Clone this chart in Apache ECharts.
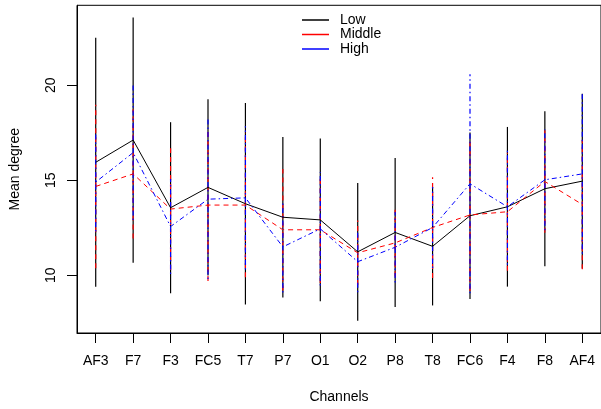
<!DOCTYPE html>
<html>
<head>
<meta charset="utf-8">
<script src="https://cdn.jsdelivr.net/npm/echarts@6/dist/echarts.min.js"></script>
<style>
  html, body { margin: 0; padding: 0; background: #fff; }
  #main { width: 601px; height: 409px; }
</style>
</head>
<body>
<div id="main"></div>
<script>
// channels on the x axis
var channels = ['AF3', 'F7', 'F3', 'FC5', 'T7', 'P7', 'O1', 'O2', 'P8', 'T8', 'FC6', 'F4', 'F8', 'AF4'];

// mean degree per group
var lowMean  = [15.94, 17.11, 13.55, 14.62, 13.76, 13.05, 12.91, 11.23, 12.25, 11.52, 13.13, 13.60, 14.55, 14.95];
var midMean  = [14.67, 15.33, 13.48, 13.69, 13.69, 12.39, 12.39, 11.18, 11.70, 12.51, 13.17, 13.34, 14.93, 13.72];
var highMean = [14.90, 16.45, 12.56, 14.00, 14.07, 11.49, 12.44, 10.71, 11.47, 12.51, 14.81, 13.60, 15.02, 15.33];

// standard deviations (error bar half length)
var lowSd  = [6.55, 6.45, 4.50, 4.64, 5.30, 4.22, 4.28, 3.62, 3.92, 3.11, 4.38, 4.20, 4.08, 4.60];
var midSd  = [4.30, 3.40, 3.20, 4.00, 3.80, 3.20, 2.80, 1.70, 1.75, 2.65, 4.00, 3.10, 2.70, 3.40];
var highSd = [2.60, 3.55, 2.50, 4.20, 3.77, 2.40, 2.98, 1.60, 1.85, 2.13, 5.76, 3.05, 2.65, 4.20];

var yTicks = [10, 15, 20];

var groups = [
  { name: 'Low',    mean: lowMean,  sd: lowSd,  color: '#000000', dash: null },
  { name: 'Middle', mean: midMean,  sd: midSd,  color: '#FF0000', dash: [5, 4] },
  { name: 'High',   mean: highMean, sd: highSd, color: '#0000FF', dash: [1.5, 3, 5, 3] }
];

var font = 'Liberation Sans, Arial, sans-serif';
var myChart = echarts.init(document.getElementById('main'));

var series = [];
// error bars first
groups.forEach(function (g) {
  series.push({
    type: 'custom',
    name: g.name + ' sd',
    silent: true,
    data: g.mean.map(function (m, i) { return [i, m - g.sd[i], m + g.sd[i]]; }),
    encode: { x: 0, y: [1, 2] },
    renderItem: function (params, api) {
      var p1 = api.coord([api.value(0), api.value(1)]);
      var p2 = api.coord([api.value(0), api.value(2)]);
      return {
        type: 'line',
        shape: { x1: p1[0], y1: p1[1], x2: p2[0], y2: p2[1] },
        style: { stroke: g.color, lineWidth: 1.2, lineDash: g.dash || 'solid' }
      };
    }
  });
});
// mean lines
groups.forEach(function (g) {
  series.push({
    type: 'line',
    name: g.name,
    data: g.mean,
    symbol: 'none',
    itemStyle: { color: g.color },
    lineStyle: { color: g.color, width: 1, type: g.dash || 'solid' }
  });
});

myChart.setOption({
  animation: false,
  backgroundColor: '#fff',
  textStyle: { fontFamily: font },
  grid: {
    left: 76.7, right: 0, top: 5.3, bottom: 73.3,
    show: true, borderColor: '#000', borderWidth: 1, backgroundColor: 'transparent'
  },
  legend: {
    orient: 'vertical',
    left: 302,
    top: 13,
    padding: 0,
    itemWidth: 27,
    itemHeight: 1.5,
    itemGap: 0.5,
    icon: 'rect',
    data: ['Low', 'Middle', 'High'],
    textStyle: { fontFamily: font, fontSize: 14, color: '#000', padding: [0, 0, 0, 6], lineHeight: 14 }
  },
  xAxis: {
    type: 'category',
    data: channels,
    boundaryGap: true,
    name: 'Channels',
    nameLocation: 'middle',
    nameGap: 57,
    nameTextStyle: { fontFamily: font, fontSize: 14, color: '#000' },
    axisLine: { show: true, lineStyle: { color: '#000', width: 1 } },
    axisTick: { show: true, alignWithLabel: true, length: 10, lineStyle: { color: '#000' } },
    axisLabel: { fontFamily: font, fontSize: 14, color: '#000', margin: 21, interval: 0 },
    splitLine: { show: false }
  },
  yAxis: {
    type: 'value',
    min: 6.96,
    max: 24.2,
    name: 'Mean degree',
    nameLocation: 'middle',
    nameGap: 55,
    nameTextStyle: { fontFamily: font, fontSize: 14, color: '#000' },
    axisLine: { show: true, lineStyle: { color: '#000', width: 1 } },
    axisTick: { show: true, length: 10, customValues: yTicks, lineStyle: { color: '#000' } },
    axisLabel: { fontFamily: font, fontSize: 14, color: '#000', rotate: 90, margin: 19, customValues: yTicks },
    splitLine: { show: false }
  },
  series: series
});
</script>
</body>
</html>
